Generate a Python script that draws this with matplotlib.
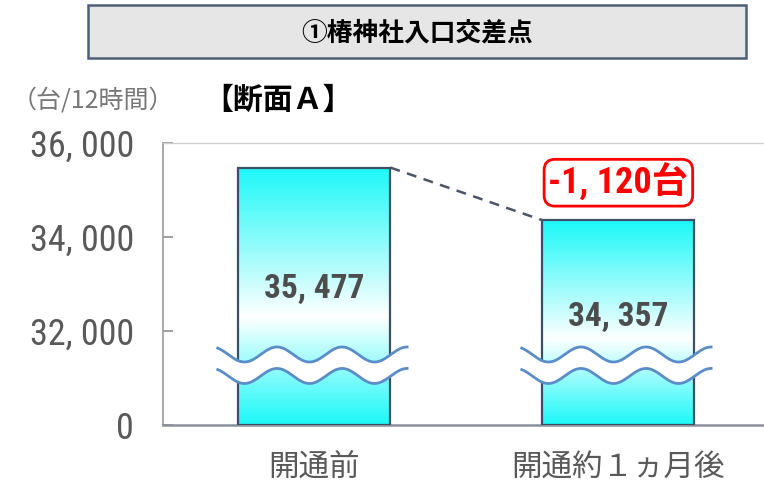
import numpy as np
import matplotlib.pyplot as plt
from matplotlib.colors import LinearSegmentedColormap
from matplotlib.patches import Rectangle

# 断面A 交通量（台/12時間）
categories = ['開通前', '開通約１ヵ月後']
volumes = [35477, 34357]
ytick_values = [30000, 32000, 34000, 36000]
ytick_labels = ['0', '32, 000', '34, 000', '36, 000']
axis_base = 30000  # 波線で省略、ここを 0 として表示

jp_font = 'Noto Sans CJK JP'
num_font = ['Roboto Condensed', 'DejaVu Sans', jp_font]
plt.rcParams['font.family'] = [jp_font, 'DejaVu Sans']

fig = plt.figure(figsize=(7.64, 4.92), dpi=100)
ax = fig.add_axes([163 / 764, 67 / 492, 601 / 764, 282 / 492])

# タイトル枠
fig.patches.append(Rectangle((88 / 764, 434 / 492), 658 / 764, 53 / 492,
                             transform=fig.transFigure, facecolor='#e6e6e6',
                             edgecolor='#4f5d73', lw=1.8))
fig.text(417 / 764, 1 - 33 / 492, '①椿神社入口交差点', ha='center', va='center',
         fontsize=18.5, fontweight='bold', color='black')
fig.text(93 / 764, 1 - 100 / 492, '（台/12時間）', ha='center', va='center',
         fontsize=18, color='#777777')
fig.text(278 / 764, 1 - 100 / 492, '【断面Ａ】', ha='center', va='center',
         fontsize=21.5, fontweight='bold', color='black')

x = np.arange(len(categories))
heights = [v - axis_base for v in volumes]
bars = ax.bar(x, heights, bottom=axis_base, width=0.5, facecolor='none',
              edgecolor='#3e4f63', lw=1.6, zorder=3)

# 棒の中のグラデーション（上下シアン、中ほど白）
fade = LinearSegmentedColormap.from_list('fade', [(0, '#1cf8f8'), (0.42, '#ffffff'), (1, '#1cf8f8')])
grad = np.linspace(0, 1, 256).reshape(-1, 1)
for bar in bars:
    x0, w = bar.get_x(), bar.get_width()
    y0, h = bar.get_y(), bar.get_height()
    img = ax.imshow(grad, cmap=fade, origin='lower', aspect='auto',
                    extent=[x0, x0 + w, y0, y0 + h], zorder=2)
    img.set_clip_path(bar)

# 省略の波線
period, amp = 0.214, 160
dx = np.linspace(-0.318, 0.305, 200)
wave = amp * np.cos(2 * np.pi * (dx - 0.305) / period)
for xc in x:
    upper = 31500 + wave
    lower = 31043 + wave
    ax.fill_between(xc + dx, lower, upper, color='white', lw=0, zorder=4)
    ax.plot(xc + dx, upper, color='#5b8dc9', lw=2, zorder=5)
    ax.plot(xc + dx, lower, color='#5b8dc9', lw=2, zorder=5)

# 数値ラベル
for xi, v in zip(x, volumes):
    ax.text(xi, axis_base + 0.53 * (v - axis_base), f'{v:,}'.replace(',', ', '),
            ha='center', va='center', fontsize=24, fontweight='bold',
            color='#4d4d4d', family=num_font, zorder=6)

# 棒の上端をつなぐ点線
ax.plot([x[0] + 0.25, x[1] - 0.25], volumes, ls=(0, (4, 3)), color='#4a5568',
        lw=1.8, zorder=3)

change = volumes[1] - volumes[0]
ax.annotate(f'{change:,}'.replace(',', ', ') + '台', xy=(x[1], volumes[1]),
            xytext=(0, 27), textcoords='offset points', ha='center', va='center',
            fontsize=26, fontweight='bold', color='#ff0000', family=num_font,
            bbox=dict(boxstyle='round,pad=0.12,rounding_size=0.3', fc='white',
                      ec='#ff0000', lw=2), zorder=7)

ax.set_xlim(-0.498, 1.479)
ax.set_ylim(axis_base, 36000)
ax.set_xticks(x, categories)
ax.set_yticks(ytick_values, ytick_labels)
ax.tick_params(axis='x', length=0, pad=20, labelsize=22, labelcolor='#595959')
ax.tick_params(axis='y', direction='in', length=7, width=1.2, color='#8c8c8c',
               pad=21, labelsize=26, labelcolor='#595959')
for lab in ax.get_yticklabels():
    lab.set_family(num_font)

ax.spines['right'].set_visible(False)
ax.spines['top'].set_color('#d0d0d0')
ax.spines['top'].set_linewidth(1)
ax.spines['left'].set_color('#9a9a9a')
ax.spines['left'].set_linewidth(1.2)
ax.spines['bottom'].set_color('#8a9099')
ax.spines['bottom'].set_linewidth(1.8)

fig.savefig('out.png', dpi=100)
